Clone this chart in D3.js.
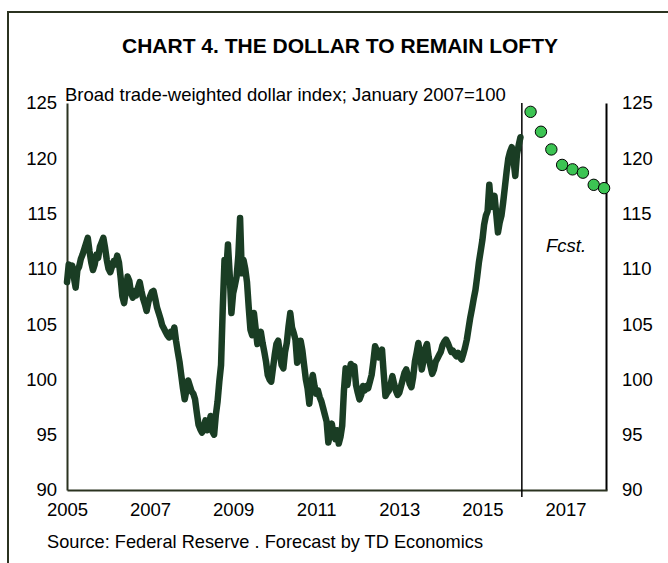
<!DOCTYPE html>
<html>
<head>
<meta charset="utf-8">
<script src="https://cdn.jsdelivr.net/npm/d3@7"></script>
<style>
  body { margin: 0; background: #fff; }
  svg { display: block; font-family: "Liberation Sans", Arial, sans-serif; }
</style>
</head>
<body>
<svg width="668" height="563"></svg>
<script>
// broad trade-weighted dollar index, semi-monthly readings (Jan 2007 = 100)
var startYear = 2005;
var perYear = 24;
var dollarIndex = [
  // 2005
  108.8, 110.4, 109.8, 110.3, 109.2, 108.3, 109.9, 110.2, 110.9, 111.3, 111.8, 112.3,
  112.8, 111.6, 110.6, 109.9, 110.4, 111.3, 111.0, 112.0, 112.4, 112.8, 111.9, 110.8,
  // 2006
  110.0, 109.7, 110.2, 110.7, 110.4, 111.2, 110.6, 109.2, 107.5, 106.9, 108.0, 109.3,
  108.9, 107.8, 107.4, 108.0, 107.6, 108.3, 108.8, 108.0, 107.3, 106.8, 106.2, 107.0,
  // 2007
  107.5, 107.9, 108.0, 107.3, 106.5, 106.0, 105.5, 104.9, 104.6, 104.3, 104.0, 103.8,
  104.3, 103.9, 104.7, 103.5, 102.5, 101.6, 100.4, 99.2, 98.2, 99.0, 99.9, 99.4,
  // 2008
  98.9, 98.7, 98.2, 97.0, 95.9, 95.5, 95.2, 95.7, 96.3, 95.4, 95.8, 96.7,
  95.3, 95.0, 96.8, 98.0, 99.8, 101.3, 106.5, 110.8, 109.8, 112.2, 109.5, 106.0,
  // 2009
  107.8, 108.5, 109.3, 111.2, 114.6, 109.6, 110.8, 110.0, 108.8, 106.5, 104.5, 104.0,
  106.0, 104.6, 103.2, 103.8, 104.3, 103.3, 102.5, 101.6, 100.4, 100.0, 99.8, 101.0,
  // 2010
  102.2, 103.2, 103.5, 102.4, 101.3, 101.0, 102.5, 103.3, 104.8, 106.0, 104.7, 104.2,
  103.6, 101.5, 102.0, 103.5, 102.6, 101.3, 100.0, 99.2, 97.8, 99.5, 100.4, 99.4,
  // 2011
  98.7, 99.0, 98.4, 98.0, 97.4, 96.8, 96.2, 94.3, 95.2, 96.0, 95.0, 94.6,
  95.4, 94.2, 94.8, 95.8, 99.0, 101.0, 99.5, 100.6, 101.4, 100.8, 101.2, 99.5,
  // 2012
  98.8, 98.2, 98.6, 99.4, 99.0, 99.4, 99.2, 99.8, 100.4, 101.6, 103.0, 102.6,
  102.0, 102.4, 102.7, 100.5, 98.5, 98.8, 99.0, 99.6, 100.3, 99.6, 99.0, 98.6,
  // 2013
  98.8, 99.4, 100.0, 100.6, 100.9, 100.3, 99.6, 99.3, 100.2, 101.6, 102.4, 103.3,
  102.2, 100.9, 101.7, 102.8, 103.2, 102.0, 101.2, 100.5, 100.9, 101.6, 101.9, 102.2,
  // 2014
  102.5, 103.1, 103.4, 103.6, 103.3, 102.9, 102.5, 102.6, 102.3, 102.1, 102.4, 102.0,
  101.8, 102.3, 102.9, 103.6, 104.6, 105.6, 106.4, 107.3, 108.1, 109.3, 110.6, 111.6,
  // 2015
  112.6, 114.0, 114.8, 115.2, 117.6, 115.6, 116.0, 116.6, 115.0, 113.3, 114.2, 114.8,
  116.0, 117.4, 118.8, 120.0, 120.6, 121.0, 119.8, 118.4, 120.4, 121.2, 121.9
];

// TD Economics quarterly forecast
var forecastYears = [2016.16, 2016.41, 2016.66, 2016.92, 2017.17, 2017.42, 2017.68, 2017.93];
var forecastValues = [124.2, 122.4, 120.8, 119.4, 119.0, 118.7, 117.6, 117.3];

var forecastStart = 2015.95;
var yearTicks = [2005, 2007, 2009, 2011, 2013, 2015, 2017];
var valueTicks = [90, 95, 100, 105, 110, 115, 120, 125];

var fontSize = 18.5;

var svg = d3.select('svg');

var x = d3.scaleLinear().domain([2005, 2018]).range([67, 607]);
var y = d3.scaleLinear().domain([90, 125]).range([490, 103]);

// outer frame
svg.append('rect')
  .attr('x', 8).attr('y', 12)
  .attr('width', 700).attr('height', 600)
  .attr('fill', 'none')
  .attr('stroke', '#2b3320')
  .attr('stroke-width', 2);

svg.append('text')
  .attr('x', 340).attr('y', 53)
  .attr('text-anchor', 'middle')
  .attr('font-size', 21)
  .attr('font-weight', 'bold')
  .text('CHART 4. THE DOLLAR TO REMAIN LOFTY');

svg.append('text')
  .attr('x', 65).attr('y', 101)
  .attr('font-size', fontSize)
  .text('Broad trade-weighted dollar index; January 2007=100');

// axes
var left = svg.append('g')
  .attr('transform', 'translate(67,0)')
  .call(d3.axisLeft(y).tickValues(valueTicks).tickSize(0).tickSizeOuter(0).tickPadding(10));
var right = svg.append('g')
  .attr('transform', 'translate(606,0)')
  .call(d3.axisRight(y).tickValues(valueTicks).tickSize(0).tickSizeOuter(0).tickPadding(16));
var bottom = svg.append('g')
  .attr('transform', 'translate(0,490)')
  .call(d3.axisBottom(x).tickValues(yearTicks).tickFormat(d3.format('d')).tickSize(0).tickSizeOuter(0).tickPadding(13));

[left, right, bottom].forEach(function(g) {
  g.selectAll('text').attr('font-size', fontSize).attr('fill', '#000')
    .attr('font-family', '"Liberation Sans", Arial, sans-serif');
});
left.select('.domain').attr('stroke', '#2b3320').attr('stroke-width', 2);
bottom.select('.domain').attr('stroke', '#2b3320').attr('stroke-width', 2);
right.select('.domain').attr('stroke', '#000').attr('stroke-width', 2);

// forecast divider
svg.append('line')
  .attr('x1', x(forecastStart)).attr('x2', x(forecastStart))
  .attr('y1', y(125)).attr('y2', y(90) + 7)
  .attr('stroke', '#000').attr('stroke-width', 1.5);

svg.append('text')
  .attr('x', 566).attr('y', 252)
  .attr('text-anchor', 'middle')
  .attr('font-size', fontSize)
  .attr('font-style', 'italic')
  .text('Fcst.');

// history line
var line = d3.line()
  .x(function(d, i) { return x(startYear + i / perYear); })
  .y(function(d) { return y(d); });

svg.append('path')
  .datum(dollarIndex)
  .attr('d', line)
  .attr('fill', 'none')
  .attr('stroke', '#1a3d24')
  .attr('stroke-width', 6.5)
  .attr('stroke-linejoin', 'round')
  .attr('stroke-linecap', 'round');

// forecast dots
svg.selectAll('circle.fcst')
  .data(forecastValues)
  .enter().append('circle')
  .attr('class', 'fcst')
  .attr('cx', function(d, i) { return x(forecastYears[i]); })
  .attr('cy', function(d) { return y(d); })
  .attr('r', 5.7)
  .attr('fill', '#3cc453')
  .attr('stroke', '#000')
  .attr('stroke-width', 1);

svg.append('text')
  .attr('x', 47).attr('y', 548)
  .attr('font-size', 18.2)
  .attr('textLength', 436)
  .text('Source: Federal Reserve . Forecast by TD Economics');
</script>
</body>
</html>
